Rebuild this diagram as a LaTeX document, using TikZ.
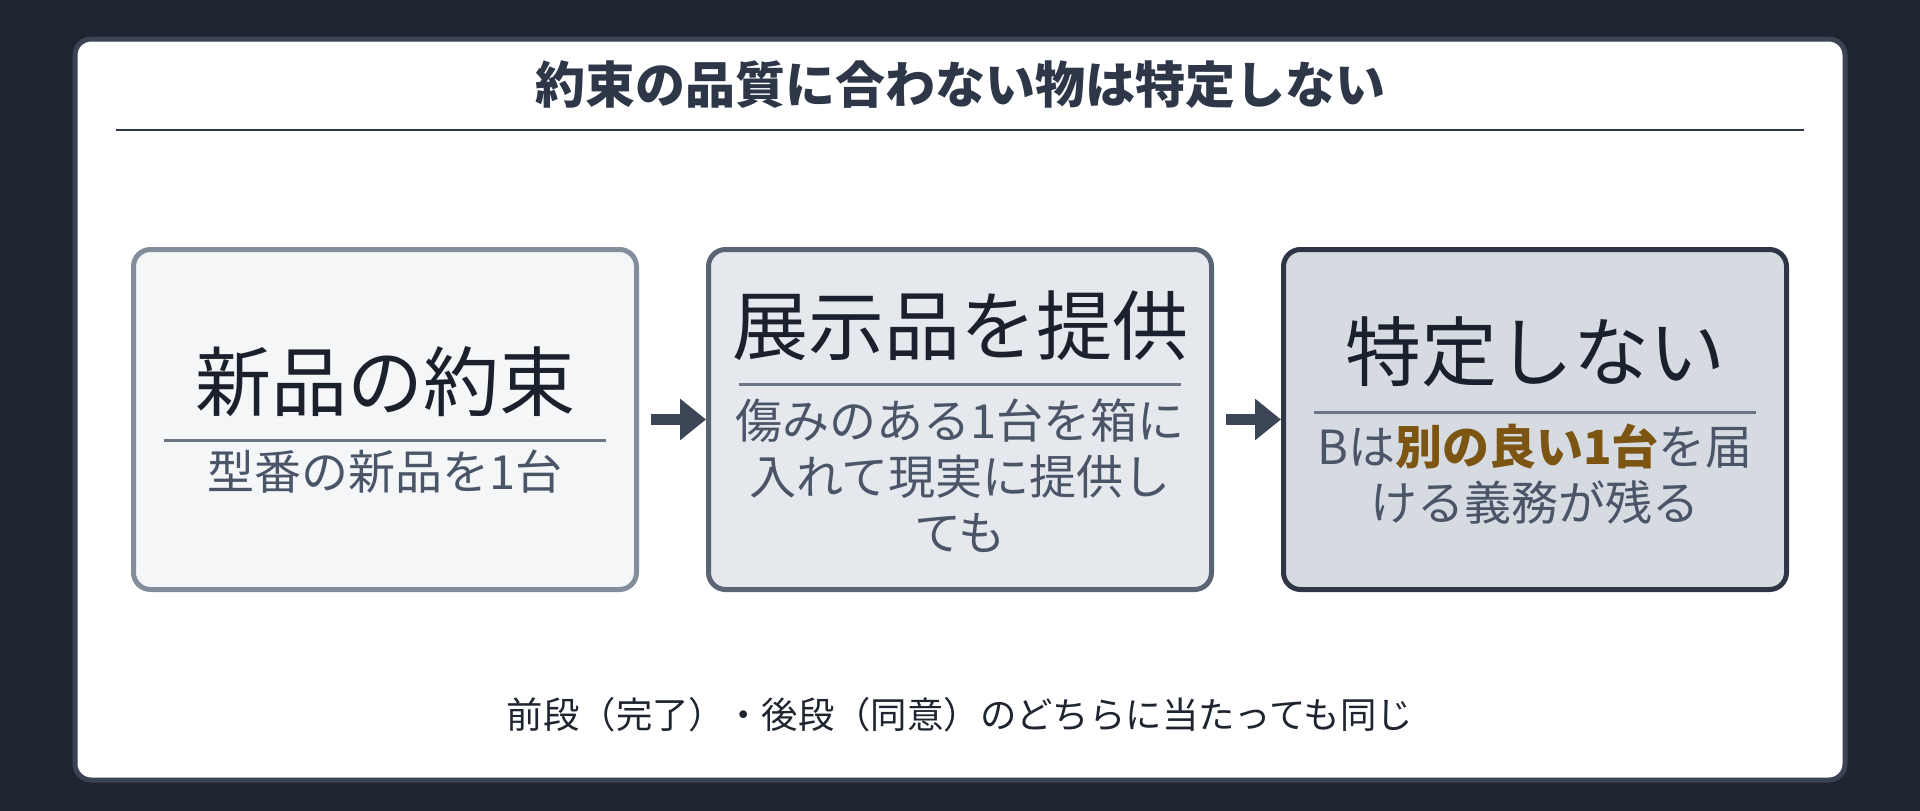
\documentclass[tikz,border=0pt]{standalone}
\usepackage{fontspec}
\setmainfont{Noto Sans CJK JP}
\usetikzlibrary{arrows.meta}
\definecolor{bgc}{HTML}{1E2530}
\definecolor{framec}{HTML}{3A4352}
\definecolor{titlec}{HTML}{2D3748}
\definecolor{ink}{HTML}{1A202C}
\definecolor{subc}{HTML}{4A5568}
\definecolor{rulec}{HTML}{6B7585}
\definecolor{hl}{HTML}{7C5512}
\definecolor{arrowc}{HTML}{3C4656}
\definecolor{promisec}{HTML}{F4F6F8}
\definecolor{promisel}{HTML}{848D9B}
\definecolor{offerc}{HTML}{E5E8ED}
\definecolor{offerl}{HTML}{5B6474}
\definecolor{verdictc}{HTML}{D6DBE2}
\definecolor{verdictl}{HTML}{2E3645}

\begin{document}
\begin{tikzpicture}[x=1pt,y=-1pt,
		box/.style={draw,rounded corners=17pt,line width=5pt,minimum width=503pt,minimum height=340pt},
		big/.style={text=ink,font=\fontsize{76}{80}\selectfont},
		small/.style={text=subc,align=center,font=\fontsize{47}{56}\selectfont},
		arr/.style={-{Triangle[length=26pt,width=40pt]},line width=11pt,draw=arrowc,shorten <=12pt}]
				\fill[bgc] (0,0) rectangle (1920,811);
				\draw[framec,fill=white,line width=5pt,rounded corners=16pt] (75,39) rectangle (1845,780);
				\node[text=titlec,font=\fontsize{50}{56}\selectfont\bfseries] (title) at (960,85) {約束の品質に合わない物は特定しない};
				\draw[titlec,line width=2.5pt] (116,130) -- (1804,130);
				\node[box,draw=promisel,fill=promisec] (promise) at (385,419.5) {};
				\node[box,draw=offerl,fill=offerc] (offer) at (960,419.5) {};
				\node[box,draw=verdictl,fill=verdictc] (verdict) at (1535,419.5) {};
				\node[big] (promise-t) at (385,382) {新品の約束};
				\node[small] (promise-s) at (385,472) {型番の新品を1台};
				\node[big] (offer-t) at (960,326) {展示品を提供};
				\node[small] (offer-s) at (960,476) {傷みのある1台を箱に\\入れて現実に提供し\\ても};
				\node[big] (verdict-t) at (1535,352) {特定しない};
				\node[small] (verdict-s) at (1535,474) {Bは{\bfseries\color{hl}別の良い1台}を届\\ける義務が残る};
				\draw[rulec,line width=3pt] (164,440) -- (606,440);
				\draw[rulec,line width=3pt] (739,384) -- (1181,384);
				\draw[rulec,line width=3pt] (1314,412) -- (1756,412);
				\draw[arr] (promise) -- (offer);
				\draw[arr] (offer) -- (verdict);
				\node[text=bgc,font=\fontsize{36.4}{42}\selectfont] (note) at (960,715) {前段（完了）・後段（同意）のどちらに当たっても同じ};
			\end{tikzpicture}
\end{document}
